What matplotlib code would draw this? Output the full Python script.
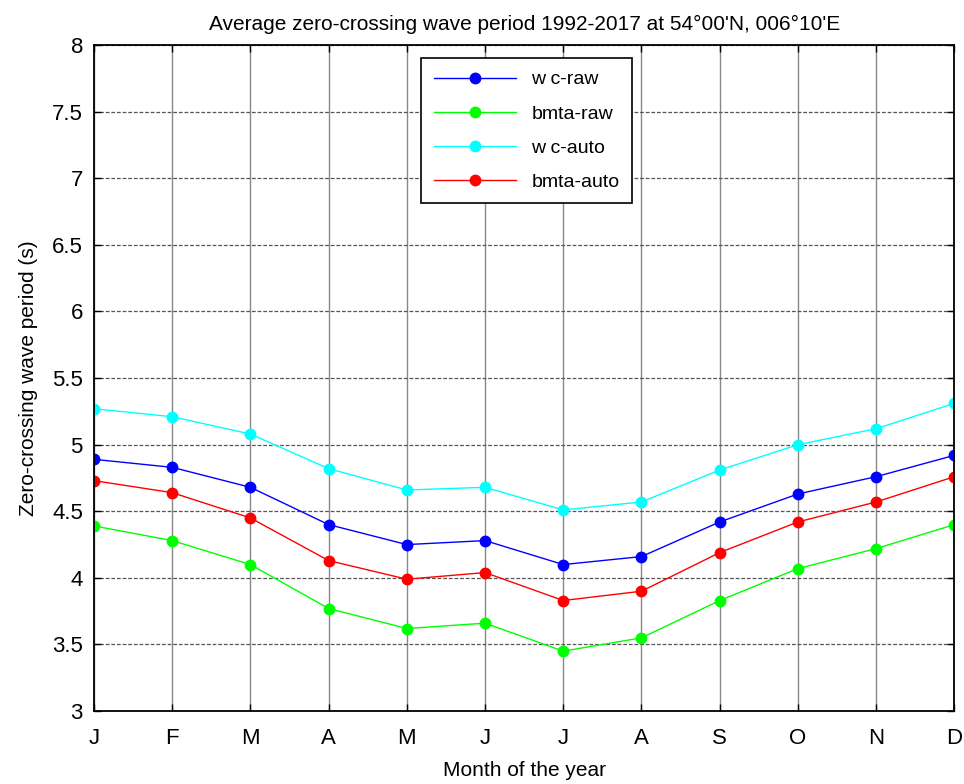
import matplotlib.pyplot as plt

plt.rcParams['font.family'] = ['Liberation Sans', 'DejaVu Sans']

months = ['J', 'F', 'M', 'A', 'M', 'J', 'J', 'A', 'S', 'O', 'N', 'D']
wc_raw = [4.89, 4.83, 4.68, 4.40, 4.25, 4.28, 4.10, 4.16, 4.42, 4.63, 4.76, 4.92]
bmta_raw = [4.39, 4.28, 4.10, 3.77, 3.62, 3.66, 3.45, 3.55, 3.83, 4.07, 4.22, 4.40]
wc_auto = [5.27, 5.21, 5.08, 4.82, 4.66, 4.68, 4.51, 4.57, 4.81, 5.00, 5.12, 5.31]
bmta_auto = [4.73, 4.64, 4.45, 4.13, 3.99, 4.04, 3.83, 3.90, 4.19, 4.42, 4.57, 4.76]

x = list(range(1, 13))

fig = plt.figure(figsize=(9.64, 7.84), dpi=100)
ax = fig.add_axes([0.0975, 0.093, 0.8925, 0.8495])

ax.plot(x, wc_raw, '-o', color=(0, 0, 1), lw=1, ms=7.5, label='w c-raw')
ax.plot(x, bmta_raw, '-o', color=(0, 1, 0), lw=1, ms=7.5, label='bmta-raw')
ax.plot(x, wc_auto, '-o', color=(0, 1, 1), lw=1, ms=7.5, label='w c-auto')
ax.plot(x, bmta_auto, '-o', color=(1, 0, 0), lw=1, ms=7.5, label='bmta-auto')

ax.set_xlim(1, 12)
ax.set_ylim(3, 8)
ax.set_xticks(x)
ax.set_xticklabels(months)
ax.set_yticks([3, 3.5, 4, 4.5, 5, 5.5, 6, 6.5, 7, 7.5, 8])
ax.set_yticklabels(['3', '3.5', '4', '4.5', '5', '5.5', '6', '6.5', '7', '7.5', '8'])

ax.xaxis.grid(True, color='#888888', lw=1, ls='-')
ax.yaxis.grid(True, color='#555555', lw=0.9, ls=(0, (3, 1.5)))
ax.set_axisbelow(True)

ax.tick_params(direction='in', top=True, right=True, length=5, width=1,
               labelsize=16, colors='black')
ax.tick_params(axis='x', pad=12)
ax.tick_params(axis='y', pad=8)
for s in ax.spines.values():
    s.set_linewidth(1.3)
    s.set_color('black')

ax.set_title("Average zero-crossing wave period 1992-2017 at 54°00'N, 006°10'E",
             fontsize=15, pad=11)
ax.set_xlabel('Month of the year', fontsize=15, labelpad=9)
ax.set_ylabel('Zero-crossing wave period (s)', fontsize=15, labelpad=10)

leg = ax.legend(loc='upper center', bbox_to_anchor=(0.503, 0.995), fontsize=14,
                fancybox=False, framealpha=1, edgecolor='black',
                handlelength=4.2, borderpad=0.65, labelspacing=0.85)
leg.get_frame().set_linewidth(1.2)

fig.savefig('out.png', dpi=100)
